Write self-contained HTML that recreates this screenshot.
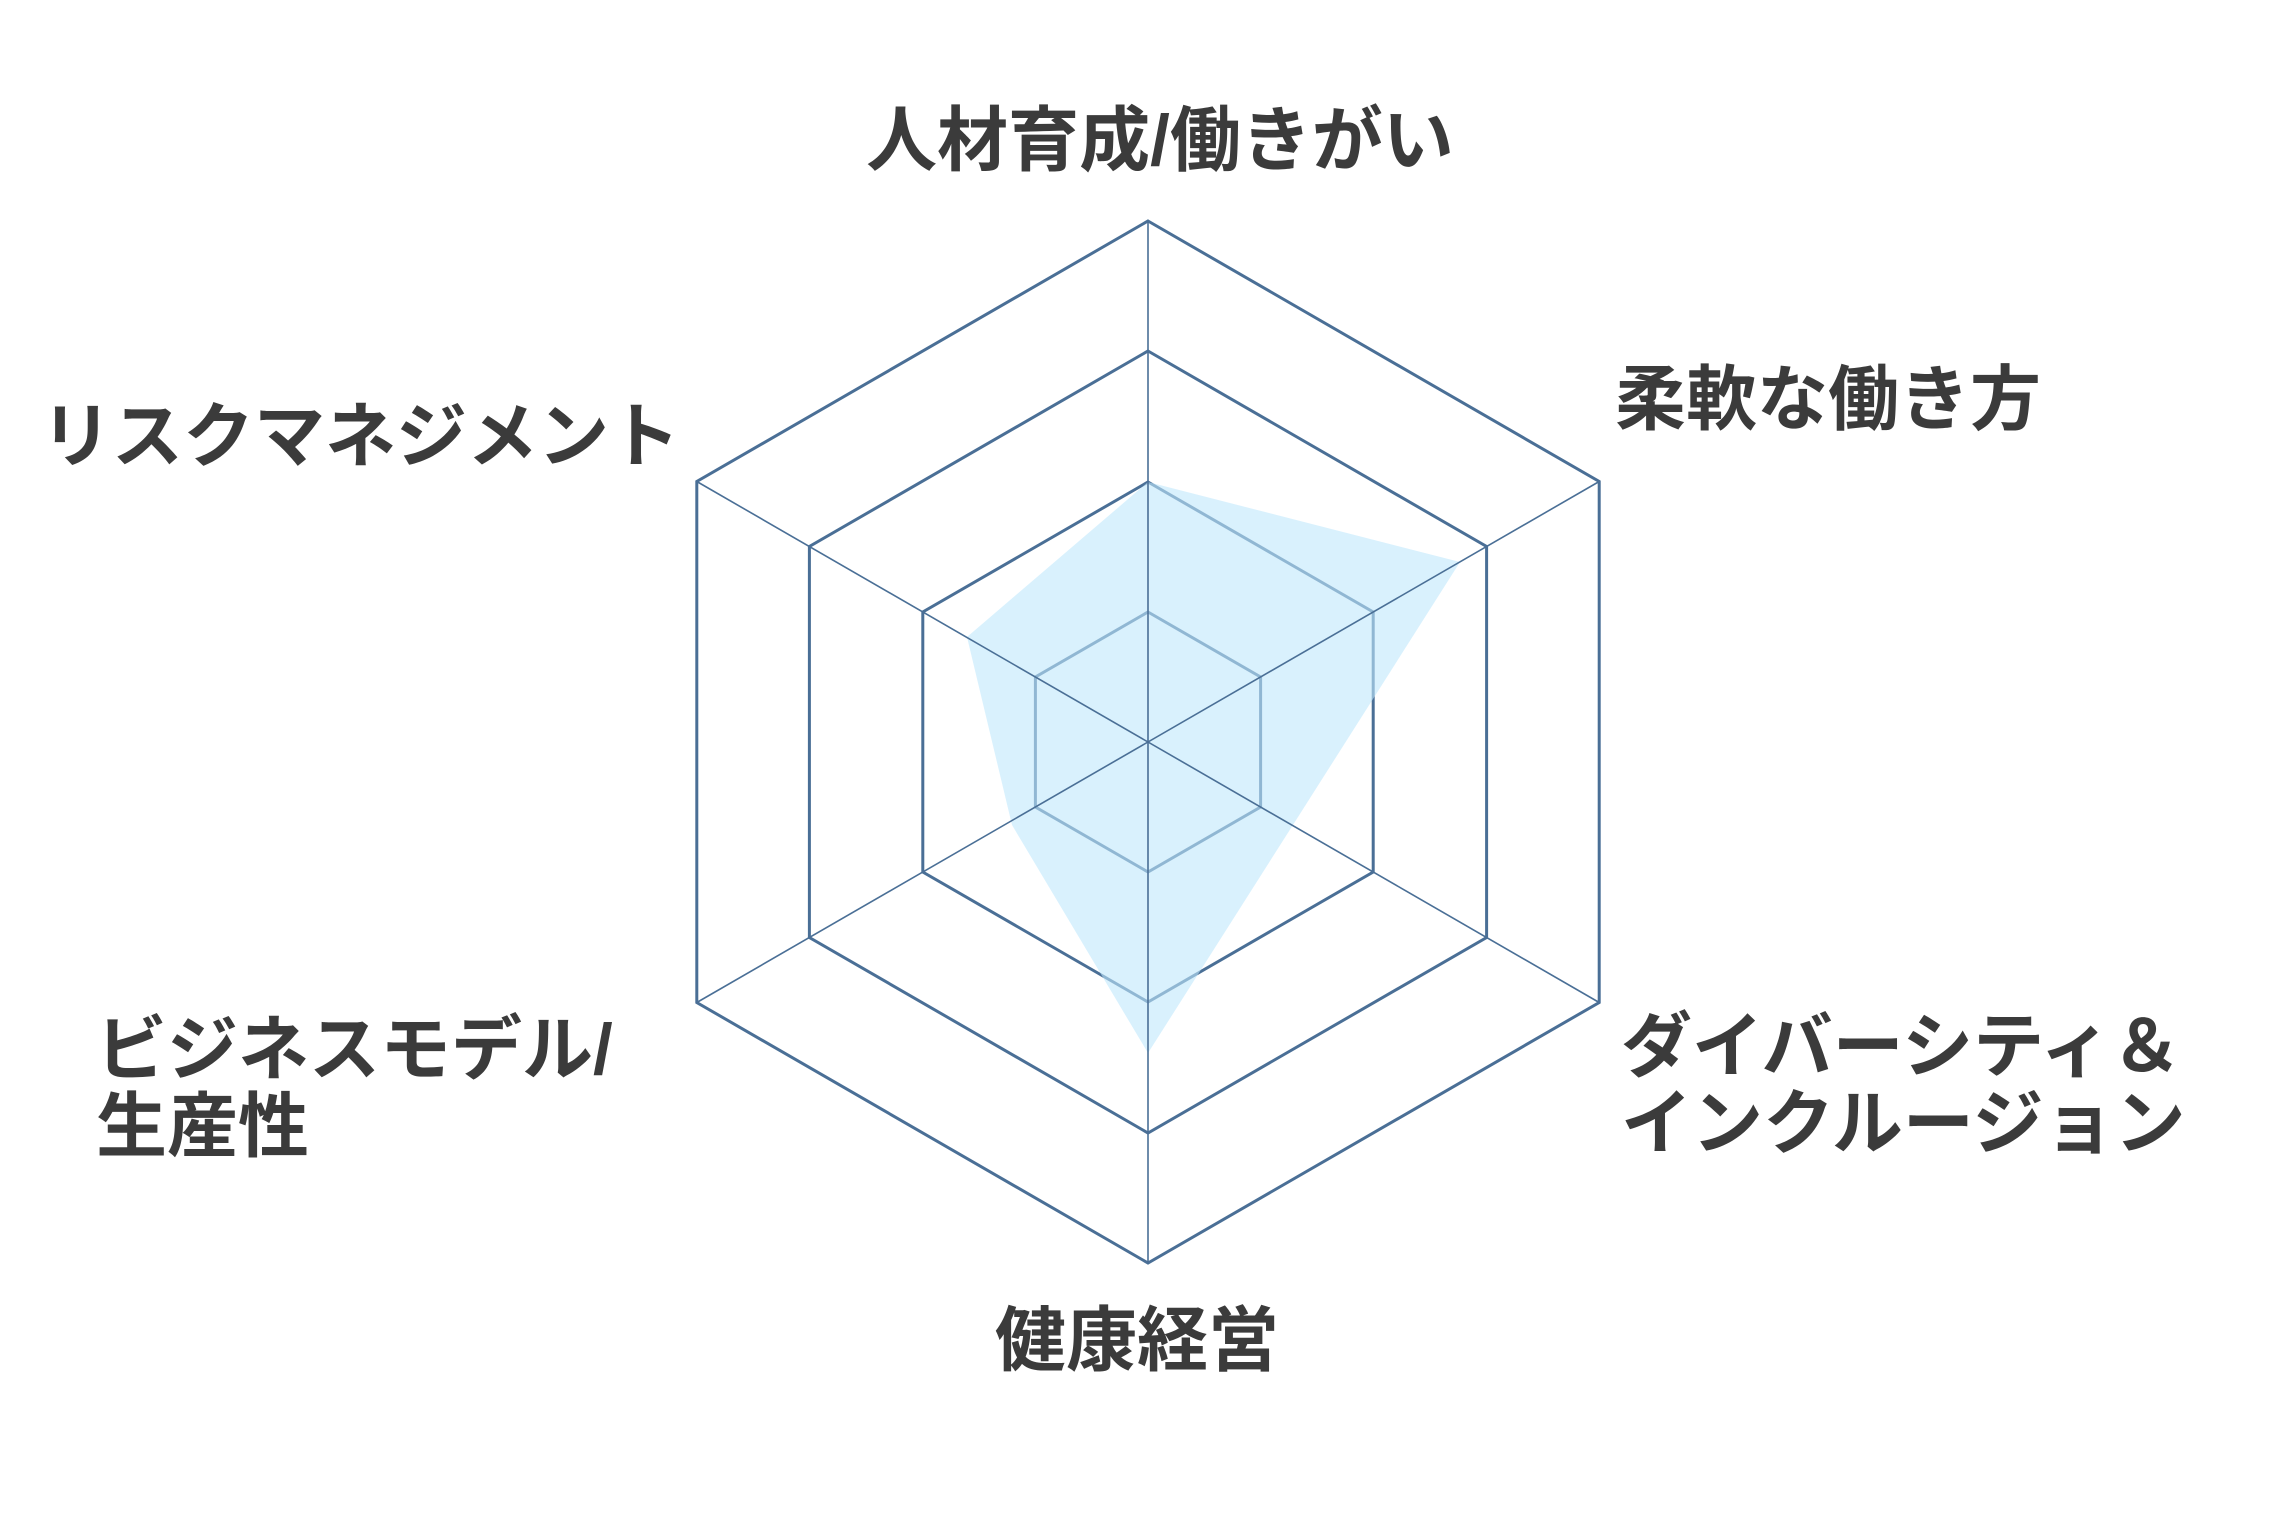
<!DOCTYPE html>
<html><head><meta charset="utf-8"><style>
body{margin:0;background:#fff;}
svg{display:block}
text{font-family:"Liberation Sans","Noto Sans CJK JP",sans-serif;font-weight:bold;fill:#3b3b3b;font-size:71px}
</style></head><body>
<svg width="2285" height="1536" viewBox="0 0 2285 1536" xmlns="http://www.w3.org/2000/svg">
<g fill="none" stroke="#4a6f96" stroke-width="3">
<polygon points="1148,612 1260.6,677 1260.6,807 1148,872 1035.4,807 1035.4,677"/>
<polygon points="1148,482 1373.2,612 1373.2,872 1148,1002 922.8,872 922.8,612"/>
<polygon points="1148,351 1486.6,546.5 1486.6,937.5 1148,1133 809.4,937.5 809.4,546.5"/>
<polygon points="1148,221 1599.2,481.5 1599.2,1002.5 1148,1263 696.8,1002.5 696.8,481.5"/>
</g>
<polygon points="1148,482 1460,562 1292.6,825.5 1148,1053 1012,825 967,637" fill="#c0e8fc" fill-opacity="0.6"/>
<g stroke="#4a6f96" stroke-width="1.6">
<line x1="1148" y1="221" x2="1148" y2="1263"/>
<line x1="696.8" y1="481.5" x2="1599.2" y2="1002.5"/>
<line x1="696.8" y1="1002.5" x2="1599.2" y2="481.5"/>
</g>
<text x="1160" y="165" text-anchor="middle">人材育成/働きがい</text>
<text x="1615" y="424">柔軟な働き方</text>
<text x="41" y="461">リスクマネジメント</text>
<text x="1621" y="1071">ダイバーシティ＆</text>
<text x="1621" y="1148">インクルージョン</text>
<text x="96" y="1074">ビジネスモデル/</text>
<text x="96" y="1151">生産性</text>
<text x="1137" y="1365" text-anchor="middle">健康経営</text>
</svg>
</body></html>
